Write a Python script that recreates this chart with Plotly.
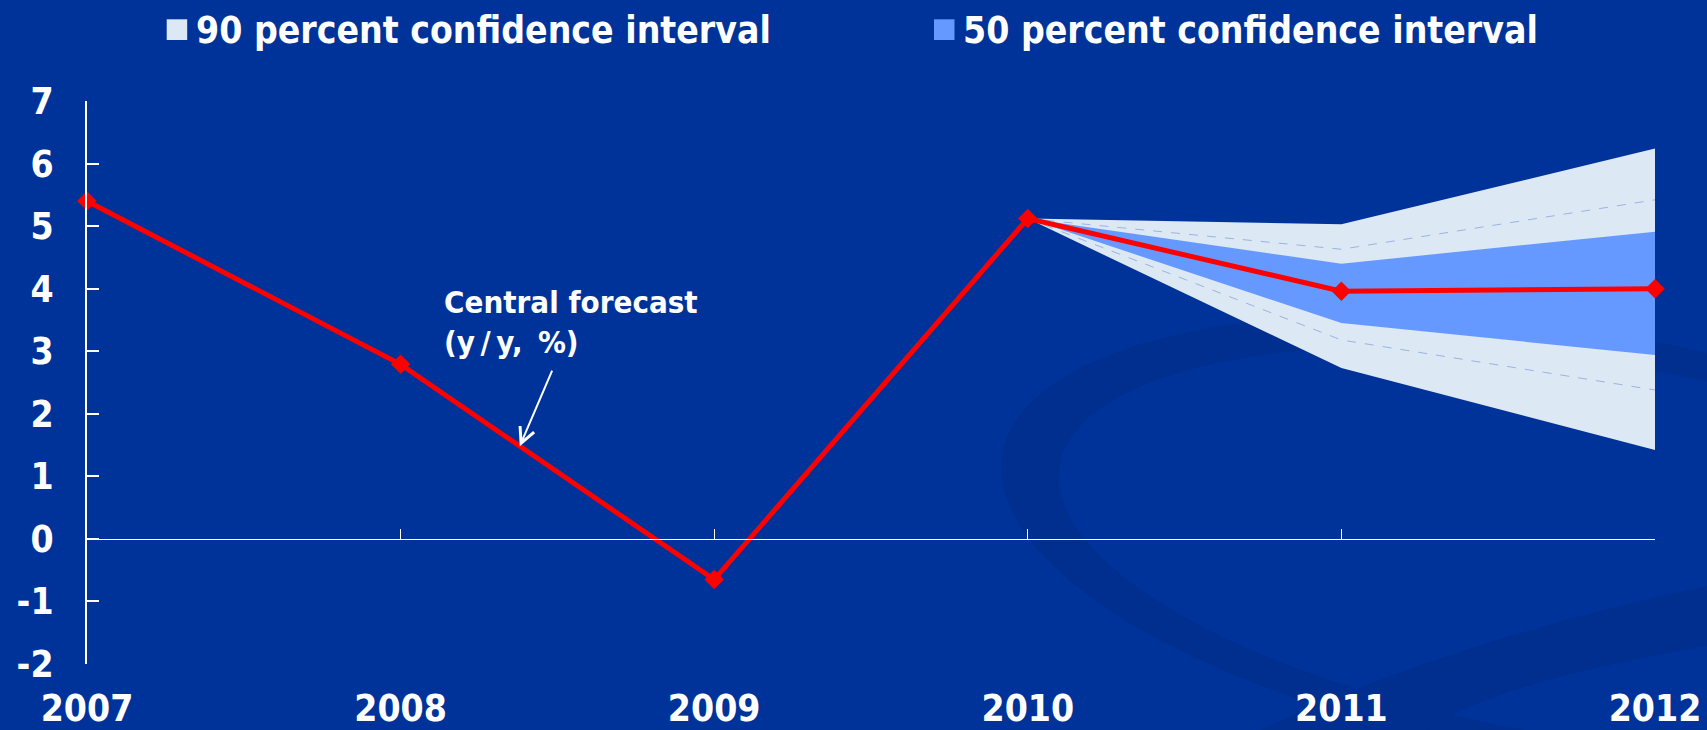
import numpy as np
import plotly.graph_objects as go

# Annual growth, central forecast (y/y, %)
years = [2007, 2008, 2009, 2010, 2011, 2012]
central = [5.40, 2.79, -0.65, 5.12, 3.96, 4.00]

# Fan chart bands for the forecast years
fan_years = [2010, 2011, 2012]
upper90 = [5.12, 5.03, 6.24]
upper70 = [5.12, 4.63, 5.42]
upper50 = [5.12, 4.40, 4.91]
lower50 = [5.12, 3.45, 2.94]
lower70 = [5.12, 3.18, 2.38]
lower90 = [5.12, 2.73, 1.42]

y_ticks = [-2, -1, 0, 1, 2, 3, 4, 5, 6, 7]
y_tick_text = ["-2", "-1", "0", "1", "2", "3", "4", "5", "6", "7"]
legend_labels = ["90 percent confidence interval", "50 percent confidence interval"]
note_text = "Central forecast<br>(y\u2009/\u2009y,\u2009 %)"
note_year = 2008.38

BG = "#003399"
SWOOSH = "#002F90"
LIGHT = "#DCE8F3"
MID = "#6699FF"
RED = "#FF0000"
FONT = "DejaVu Sans Condensed, DejaVu Sans, sans-serif"

W, H = 1707, 730
ML, MR, MT, MB = 87, 52, 101, 66
PW, PH = W - ML - MR, H - MT - MB


def px_x(px):
    return (px - ML) / PW


def px_y(py):
    return (H - MB - py) / PH


def ellipse_path(cx, cy, a, b, tilt_deg, reverse=False, n=240):
    """Closed ellipse outline in paper coordinates (centre/radii in pixels)."""
    th = np.radians(tilt_deg)
    t = np.linspace(0, 2 * np.pi, n)
    if reverse:
        t = t[::-1]
    xs = cx + a * np.cos(t) * np.cos(th) - b * np.sin(t) * np.sin(th)
    ys = cy + a * np.cos(t) * np.sin(th) + b * np.sin(t) * np.cos(th)
    pts = [f"{px_x(x):.5f},{px_y(y):.5f}" for x, y in zip(xs, ys)]
    return "M" + " L".join(pts) + " Z"


fig = go.Figure()

# background decoration: a darker orbit-like ring and a lower swoosh
ring = ellipse_path(1570, 545, 575, 215, 9) + " " + \
    ellipse_path(1588, 550, 535, 188, 9, reverse=True)
fig.add_shape(type="path", xref="paper", yref="paper", path=ring,
              fillcolor=SWOOSH, line=dict(width=0), layer="below")
swoosh_pts = [(1250, 735), (1450, 640), (1712, 585), (1712, 645), (1480, 685), (1420, 735)]
sp = [(px_x(x), px_y(y)) for x, y in swoosh_pts]
swoosh = (f"M{sp[0][0]:.5f},{sp[0][1]:.5f} Q{sp[1][0]:.5f},{sp[1][1]:.5f} "
          f"{sp[2][0]:.5f},{sp[2][1]:.5f} L{sp[3][0]:.5f},{sp[3][1]:.5f} "
          f"Q{sp[4][0]:.5f},{sp[4][1]:.5f} {sp[5][0]:.5f},{sp[5][1]:.5f} Z")
fig.add_shape(type="path", xref="paper", yref="paper", path=swoosh,
              fillcolor=SWOOSH, line=dict(width=0), layer="below")

# 90 percent band
fig.add_trace(go.Scatter(x=fan_years, y=lower90, mode="lines", line=dict(width=0),
                         hoverinfo="skip", showlegend=False))
fig.add_trace(go.Scatter(x=fan_years, y=upper90, mode="lines", line=dict(width=0),
                         fill="tonexty", fillcolor=LIGHT, name=legend_labels[0],
                         showlegend=False))
# 50 percent band
fig.add_trace(go.Scatter(x=fan_years, y=lower50, mode="lines", line=dict(width=0),
                         hoverinfo="skip", showlegend=False))
fig.add_trace(go.Scatter(x=fan_years, y=upper50, mode="lines", line=dict(width=0),
                         fill="tonexty", fillcolor=MID, name=legend_labels[1],
                         showlegend=False))
# intermediate quantile lines
for band in (upper70, lower70):
    fig.add_trace(go.Scatter(x=fan_years, y=band, mode="lines",
                             line=dict(color="#9DB3E0", width=1, dash="dash"),
                             hoverinfo="skip", showlegend=False))

# central forecast
fig.add_trace(go.Scatter(x=years, y=central, mode="lines+markers",
                         line=dict(color=RED, width=5),
                         marker=dict(symbol="diamond", size=15, color=RED),
                         cliponaxis=False, showlegend=False))

# ticks sitting on the zero line
fig.add_trace(go.Scatter(x=years, y=[0] * len(years), xaxis="x2", mode="lines",
                         line=dict(width=0), hoverinfo="skip", showlegend=False))

fig.update_layout(
    width=W, height=H,
    margin=dict(l=ML, r=MR, t=MT, b=MB, autoexpand=False),
    paper_bgcolor=BG, plot_bgcolor="rgba(0,0,0,0)",
    font=dict(family=FONT, color="white", size=37, weight="bold"),
    showlegend=False,
    xaxis=dict(range=[2007, 2012], tickvals=years, ticktext=[str(y) for y in years],
               showgrid=False, zeroline=False, showline=False, ticks="",
               automargin=False, ticklabelstandoff=19,
               tickfont=dict(size=37, family=FONT, weight="bold")),
    xaxis2=dict(range=[2007, 2012], overlaying="x", anchor="free", position=2 / 9,
                side="bottom", tickvals=years, showticklabels=False, ticks="inside",
                ticklen=10, tickwidth=1, tickcolor="white", showline=True,
                linecolor="white", linewidth=1, showgrid=False, zeroline=False,
                automargin=False),
    yaxis=dict(range=[-2, 7], tickvals=y_ticks, ticktext=y_tick_text,
               showgrid=False, zeroline=False, automargin=False,
               showline=True, linecolor="white", linewidth=2, ticks="inside",
               ticklen=12, tickwidth=2, tickcolor="white", ticklabelstandoff=24,
               tickfont=dict(size=37, family=FONT, weight="bold")),
)

# legend drawn as swatches with labels
swatches = [(LIGHT, 166.7, legend_labels[0]), (MID, 934.0, legend_labels[1])]
for color, px, label in swatches:
    fig.add_shape(type="rect", xref="paper", yref="paper",
                  x0=px_x(px), x1=px_x(px + 20.5), y0=px_y(40), y1=px_y(19.3),
                  fillcolor=color, line=dict(width=0))
    fig.add_annotation(xref="paper", yref="paper", x=px_x(px + 27), y=px_y(30.5),
                       xanchor="left", yanchor="middle", text=label, showarrow=False,
                       font=dict(size=37, family=FONT, color="white", weight="bold"))

# callout for the central forecast
tip_y = float(np.interp(note_year, years, central))
fig.add_annotation(x=note_year, y=tip_y, ax=33, ay=-77, text="", showarrow=True,
                   arrowhead=5, arrowsize=1.5, arrowwidth=2, arrowcolor="white")
fig.add_annotation(xref="paper", yref="paper", x=px_x(442), y=px_y(322),
                   xanchor="left", yanchor="middle", align="left", text=note_text,
                   showarrow=False,
                   font=dict(size=31, family=FONT, color="white", weight="bold"))

fig.write_html("out.html")
